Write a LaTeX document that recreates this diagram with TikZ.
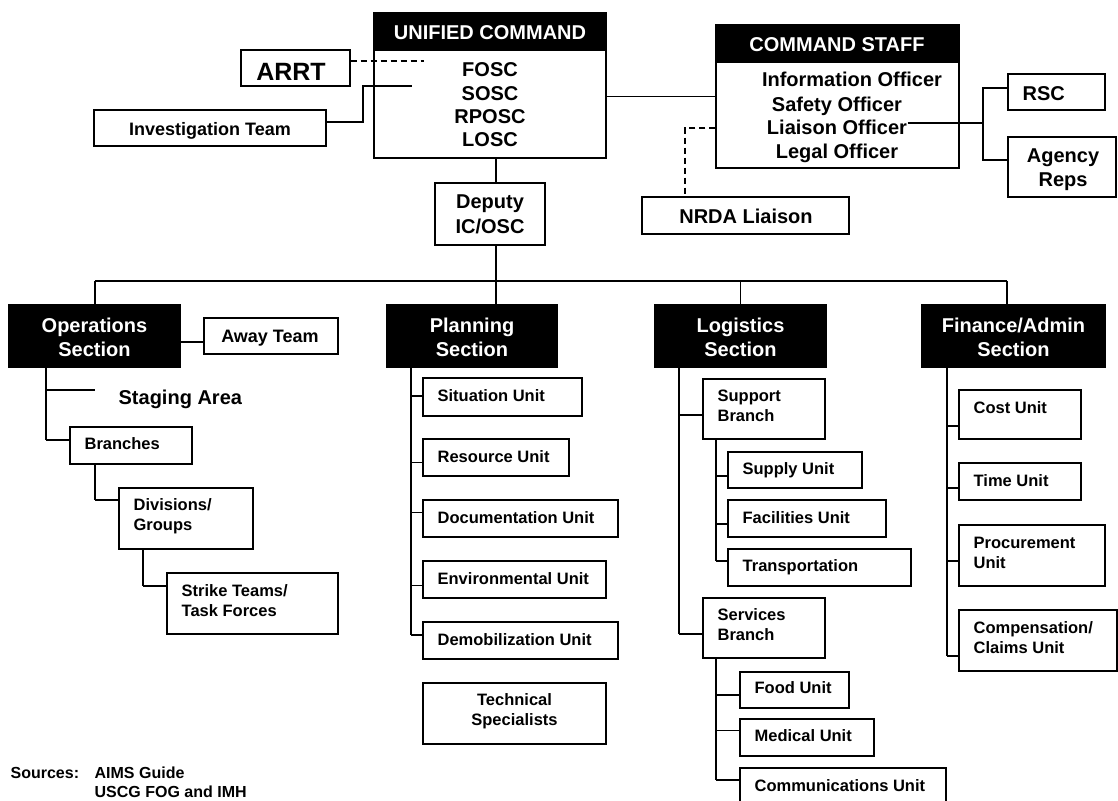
\documentclass[tikz,border=0pt]{standalone}
\usepackage{fontspec}
\setmainfont{Liberation Sans}
\usetikzlibrary{fit,calc}
\newcommand\fntU{\fontsize{16.5}{20}\selectfont\bfseries}
\newcommand\fntB{\fontsize{20}{24}\selectfont\bfseries}
\newcommand\fntM{\fontsize{18}{22}\selectfont\bfseries}
\newcommand\fntS{\fontsize{16}{20}\selectfont\bfseries}
% frame + left-aligned single-line text
\newcommand\unitbox[7]{\node[boxf, fit={(#2,#3) (#4,#5)}] (#1) {};
  \node[tunit] (#1T) at (#2+14,#6) {#7};}
% frame + left-aligned multi-line text
\newcommand\unitboxm[7]{\node[boxf, fit={(#2,#3) (#4,#5)}] (#1) {};
  \node[tunitm] (#1T) at (#2+14,#6) {#7};}
% tick from a box's west side to a vertical line
\newcommand\tkline[4]{\draw ([yshift=#3pt]#1.west) coordinate (#4) -- (#4 -| #2);}
\begin{document}
\begin{tikzpicture}[x=1pt,y=-1pt,line width=1.3pt,
  boxf/.style={draw, inner sep=0pt, line width=1.3pt},
  hdr/.style={boxf, fill=black},
  htext/.style={font=\fntB, text=white, align=center, inner sep=0pt},
  tunit/.style={font=\fntU, inner sep=0pt, anchor=west, text height=11.8pt, text depth=0pt},
  tunitm/.style={font=\fntU, inner sep=0pt, anchor=west, align=left},
  tcen/.style={font=\fntB, inner sep=0pt, text height=14.3pt, text depth=0pt},
  tmid/.style={font=\fntM, inner sep=0pt, text height=12.9pt, text depth=0pt},
  dsh/.style={dash pattern=on 6pt off 4pt}]
\fill[white] (0,0) rectangle (1118,800);
\useasboundingbox (0,0) rectangle (1118,800);

% ---------- Unified command ----------
\node[boxf, fit={(374,13) (606,158)}] (uc) {};
\node[hdr, fit={(374,13) (606,50)}] (ucH) {};
\node[tcen, text=white] (ucHT) at (490,32) {UNIFIED COMMAND};
\node[font=\fontsize{20}{23.3}\selectfont\bfseries, align=center, inner sep=0pt] (ucl) at (490,105) {FOSC\\SOSC\\RPOSC\\LOSC};

\node[boxf, fit={(241,50) (350,86)}] (arrt) {};
\node[font=\fontsize{25}{30}\selectfont\bfseries, text height=17.9pt, text depth=0pt, inner sep=0pt] (arrtT) at (291,72) {ARRT};
\node[boxf, fit={(94,110) (326,146)}] (inv) {};
\node[tmid] (invT) at (210,129) {Investigation Team};

% ---------- Command staff ----------
\node[boxf, fit={(716,25) (959,168)}] (cs) {};
\node[hdr, fit={(716,25) (959,62)}] (csH) {};
\node[tcen, text=white] (csHT) at (837,44.5) {COMMAND STAFF};
\node[tcen] (info) at (852,79) {Information Officer};
\node[tcen] (safety) at (837,104) {Safety Officer};
\node[tcen] (liaison) at (837,127) {Liaison Officer};
\node[tcen] (legal) at (837,151) {Legal Officer};
\node[boxf, fit={(642,197) (849,234)}] (nrda) {};
\node[tcen] (nrdaT) at (746,216.5) {NRDA Liaison};
\node[boxf, fit={(1008,74) (1105,110)}] (rsc) {};
\node[tcen, anchor=west] (rscT) at (1022,93) {RSC};
\node[boxf, fit={(1008,137) (1116,197)}] (agency) {};
\node[font=\fontsize{20}{24}\selectfont\bfseries, align=center, inner sep=0pt] (agencyT) at (1063,169.5) {Agency\\Reps};

\node[boxf, fit={(435,183) (545,245)}] (deputy) {};
\node[font=\fontsize{20}{24.5}\selectfont\bfseries, align=center, inner sep=0pt] (deputyT) at (490,214.5) {Deputy\\IC/OSC};

% ---------- Sections ----------
\node[hdr, fit={(9,305) (180,367)}] (ops) {};
\node[htext] (opsT) at (94.5,337) {Operations\\Section};
\node[hdr, fit={(387,305) (557,367)}] (plan) {};
\node[htext] (planT) at (472,337) {Planning\\Section};
\node[hdr, fit={(655,305) (826,367)}] (logi) {};
\node[htext] (logiT) at (740.5,337) {Logistics\\Section};
\node[hdr, fit={(922,305) (1105,367)}] (fin) {};
\node[htext] (finT) at (1013.5,337) {Finance/Admin\\Section};

% Operations
\node[boxf, fit={(204,318) (338,354)}] (away) {};
\node[tmid] (awayT) at (270,336.5) {Away Team};
\node[tcen, anchor=west] (stg) at (118,397) {Staging Area};
\unitbox{br}{70}{427}{192}{464}{444}{Branches}
\unitboxm{div}{119}{488}{253}{549}{516}{Divisions/\\Groups}
\unitboxm{stk}{167}{573}{338}{634}{601}{Strike Teams/\\Task Forces}

% Planning
\unitbox{sit}{423}{378}{582}{416}{396}{Situation Unit}
\unitbox{res}{423}{439}{569}{476}{457}{Resource Unit}
\unitbox{doc}{423}{500}{618}{537}{518}{Documentation Unit}
\unitbox{env}{423}{561}{606}{598}{579}{Environmental Unit}
\unitbox{dem}{423}{622}{618}{659}{640}{Demobilization Unit}
\node[boxf, fit={(423,683) (606,744)}] (tech) {};
\node[font=\fntU, align=center, inner sep=0pt] (techT) at (514.5,711.5) {Technical\\Specialists};

% Logistics
\unitboxm{sup}{703}{379}{825}{439}{405.5}{Support\\Branch}
\unitbox{supply}{728}{452}{862}{488}{469}{Supply Unit}
\unitbox{fac}{728}{500}{886}{537}{517.5}{Facilities Unit}
\unitbox{trans}{728}{549}{911}{586}{566}{Transportation}
\unitboxm{serv}{703}{598}{825}{658}{625}{Services\\Branch}
\unitbox{food}{740}{672}{849}{708}{688}{Food Unit}
\unitbox{med}{740}{719}{874}{756}{736}{Medical Unit}
\unitbox{comm}{740}{768}{946}{806}{786}{Communications Unit}

% Finance
\unitbox{cost}{959}{390}{1081}{439}{408}{Cost Unit}
\unitbox{tim}{959}{463}{1081}{500}{481}{Time Unit}
\unitboxm{proc}{959}{525}{1105}{586}{552.5}{Procurement\\Unit}
\unitboxm{comp}{959}{610}{1117}{671}{637.5}{Compensation/\\Claims Unit}

% Sources
\node[font=\fntS, anchor=west, inner sep=0pt, text height=11.5pt, text depth=0pt] (srcA) at (10,773) {Sources:};
\node[font=\fntS, anchor=west, inner sep=0pt, text height=11.5pt, text depth=0pt] (srcB) at (94,773) {AIMS Guide};
\node[font=\fntS, anchor=west, inner sep=0pt, text height=11.5pt, text depth=0pt] (srcC) at (94,792) {USCG FOG and IMH};

% ---------- Connectors (top) ----------
\coordinate (arrtJ) at (424,61);
\draw[dsh] (arrtJ -| arrt.east) -- (arrtJ);
\coordinate (invJ) at (412,86);
\draw ([yshift=6pt]inv.east) -| ($(invJ)+(-49,0)$) -- (invJ);
\draw (cs.west) -- (cs.west -| uc.east);
\coordinate (nrJ) at (685,128);
\draw[dsh] (nrJ -| cs.west) -- (nrJ) -- (nrJ |- nrda.north);
\coordinate (lsJ) at (983,123);
\draw ([yshift=4pt]liaison.east) -- (lsJ);
\draw ([yshift=4pt]rsc.west) -| (lsJ);
\draw ([yshift=7pt]agency.west) -| (lsJ);

\coordinate (mx) at (496,0);
\coordinate (busL) at (95,281);
\coordinate (busR) at (1007,281);
\draw (mx |- uc.south) -- (mx |- deputy.north);
\draw (mx |- deputy.south) -- (mx |- busL);
\draw (busL) -- (busR);
\draw (busL) -- (busL |- ops.north);
\draw (mx |- busL) -- (mx |- plan.north);
\draw (logi.north) -- (logi.north |- busL);
\draw (busR) -- (busR |- fin.north);

% ---------- Operations ----------
\draw ([yshift=-6pt]away.west) coordinate (awJ) -- (awJ -| ops.east);
\coordinate (opv) at (46,0);
\tkline{br}{opv}{5.5}{brJ}
\draw (opv |- ops.south) -- (opv |- brJ);
\coordinate (stgJ) at (95,390);
\draw (stgJ -| opv) -- (stgJ);
\coordinate (brv) at (95,0);
\tkline{div}{brv}{18.5}{divJ}
\draw (brv |- br.south) -- (brv |- divJ);
\coordinate (dvv) at (143,0);
\tkline{stk}{dvv}{17.5}{stkJ}
\draw (dvv |- div.south) -- (dvv |- stkJ);

% ---------- Planning ----------
\coordinate (pv) at (411,0);
\tkline{sit}{pv}{1}{sitJ}
\tkline{res}{pv}{-5}{resJ}
\tkline{doc}{pv}{6}{docJ}
\tkline{env}{pv}{-6}{envJ}
\tkline{dem}{pv}{5.5}{demJ}
\draw (pv |- plan.south) -- (pv |- demJ);

% ---------- Logistics ----------
\coordinate (lv) at (679,0);
\tkline{sup}{lv}{-6}{supJ}
\tkline{serv}{lv}{-6}{servJ}
\draw (lv |- logi.south) -- (lv |- servJ);
\coordinate (sv) at (716,0);
\tkline{supply}{sv}{-6}{supplyJ}
\tkline{fac}{sv}{-5.5}{facJ}
\tkline{trans}{sv}{6.5}{transJ}
\draw (sv |- sup.south) -- (sv |- transJ);
\tkline{food}{sv}{-5}{foodJ}
\tkline{med}{sv}{6.7}{medJ}
\tkline{comm}{sv}{7}{commJ}
\draw (sv |- serv.south) -- (sv |- commJ);

% ---------- Finance ----------
\coordinate (fv) at (947,0);
\tkline{cost}{fv}{-11.5}{costJ}
\tkline{tim}{fv}{-6.5}{timJ}
\tkline{proc}{fv}{-5.5}{procJ}
\tkline{comp}{fv}{-15.5}{compJ}
\draw (fv |- fin.south) -- (fv |- compJ);
\end{tikzpicture}
\end{document}
